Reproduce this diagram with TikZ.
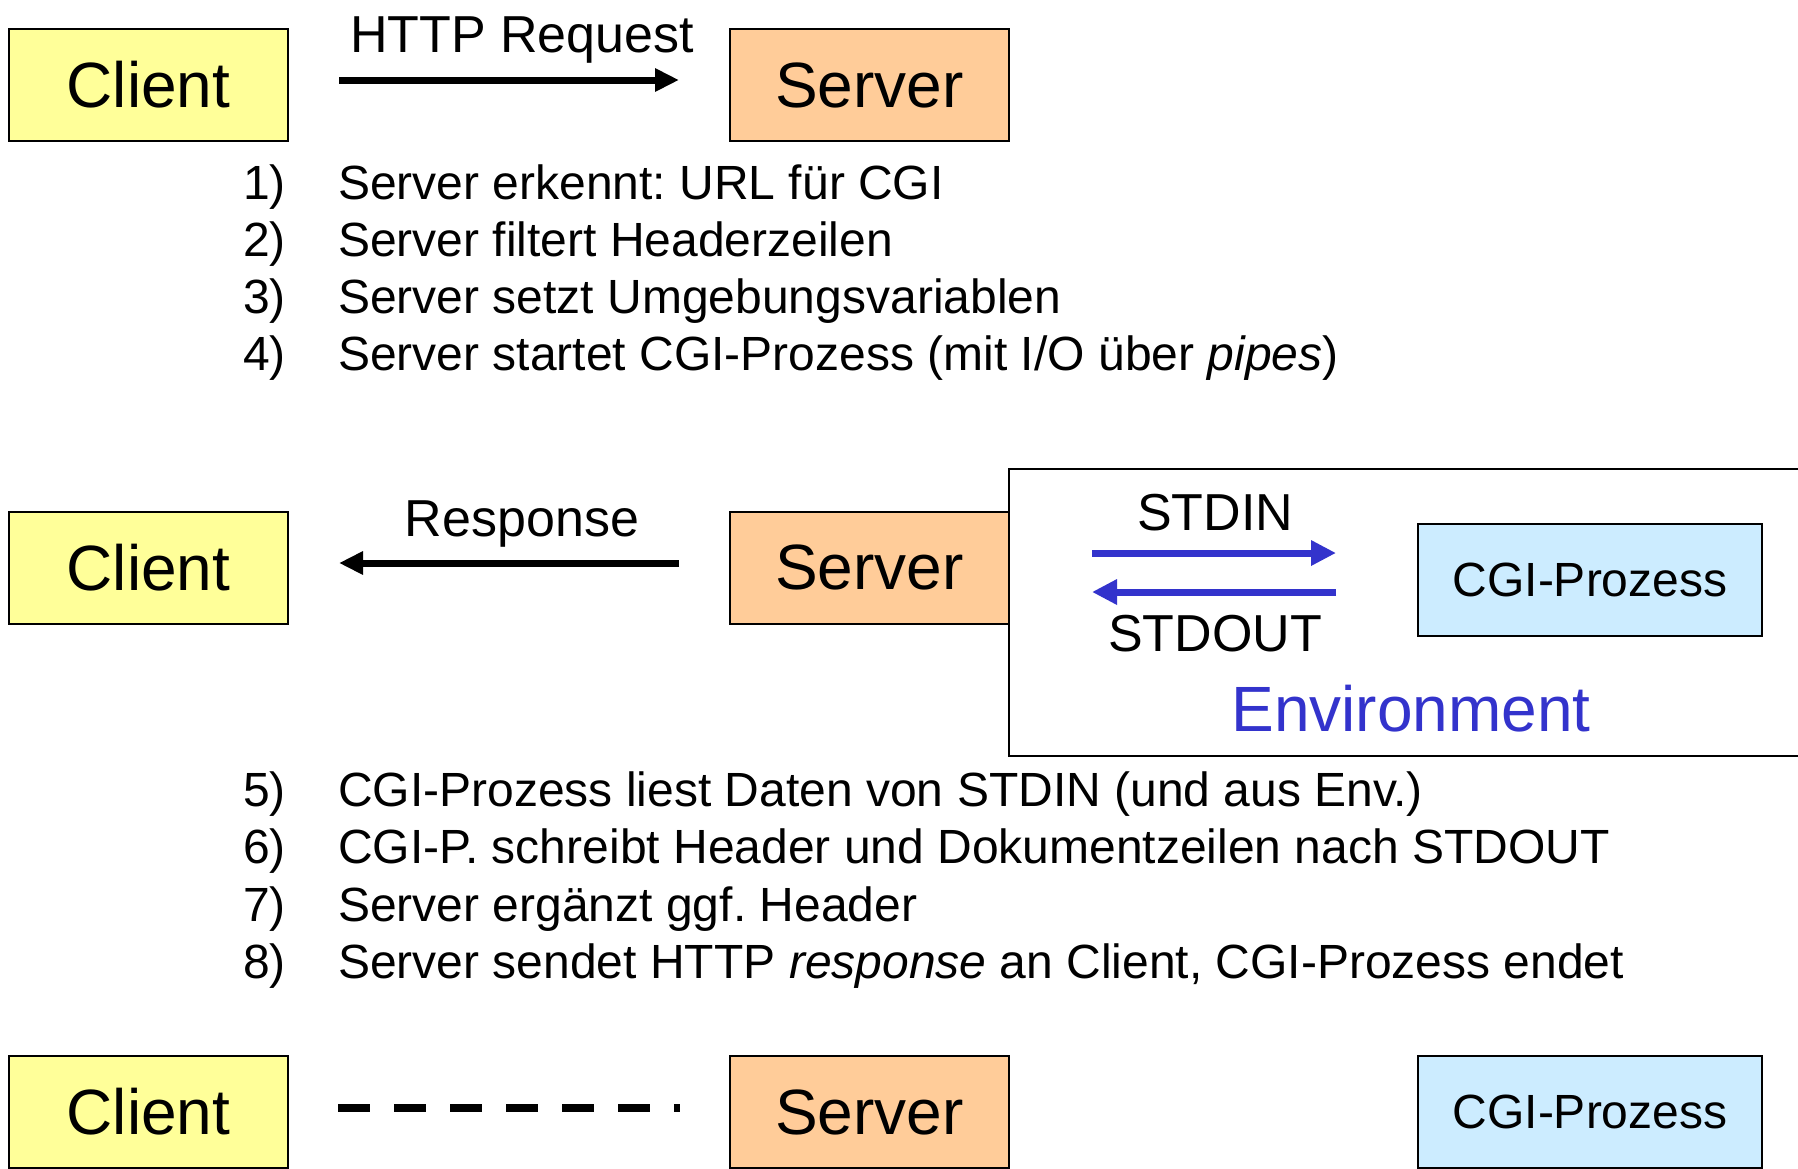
\documentclass[tikz,border=0pt]{standalone}
\usepackage{fontspec}
\setmainfont{Liberation Sans}
\usetikzlibrary{arrows.meta}
\frenchspacing
\definecolor{clientc}{HTML}{FFFF99}
\definecolor{serverc}{HTML}{FFCC99}
\definecolor{cgic}{HTML}{CCECFF}
\definecolor{envblue}{HTML}{3333CC}
\tikzset{
  box/.style={draw=black, line width=2pt, inner sep=0pt, minimum width=279pt, minimum height=112pt, font=\fontsize{64}{64}\selectfont},
  clientbox/.style={box, fill=clientc},
  serverbox/.style={box, fill=serverc},
  cgibox/.style={box, fill=cgic, minimum width=344pt, font=\fontsize{48}{48}\selectfont},
  listtxt/.style={anchor=base west, inner sep=0pt, font=\fontsize{48}{48}\selectfont},
  lbl/.style={anchor=base, inner sep=0pt, font=\fontsize{52}{52}\selectfont},
  blackarrow/.style={line width=7pt, -{Triangle[length=24pt,width=22pt]}},
  bluearrow/.style={line width=7pt, draw=envblue, -{Triangle[length=25pt,width=24pt]}, color=envblue},
  dashline/.style={line width=8pt, dash pattern=on 32pt off 24pt},
}
\begin{document}
\begin{tikzpicture}[x=1pt,y=-1pt]
\useasboundingbox (0,0) rectangle (1798,1168);
\clip (0,0) rectangle (1798,1168);
\fill[white] (0,0) rectangle (1798,1168);

% --- top row
\node[clientbox] (c1) at (148.5,85) {Client};
\node[serverbox] (s1) at (869.5,85) {Server};
\node[lbl] (req) at (522,52) {HTTP Request};
\draw[blackarrow] ([xshift=50pt,yshift=5pt]c1.east) -- ([xshift=-50pt,yshift=5pt]s1.west);

% --- list 1-4
\node[listtxt] (n1) at (243,199) {1)};
\node[listtxt] (t1) at (338,199) {Server erkennt: URL für CGI};
\node[listtxt] (n2) at (243,256) {2)};
\node[listtxt] (t2) at (338,256) {Server filtert Headerzeilen};
\node[listtxt] (n3) at (243,313) {3)};
\node[listtxt] (t3) at (338,313) {Server setzt Umgebungsvariablen};
\node[listtxt] (n4) at (243,370) {4)};
\node[listtxt] (t4) at (338,370) {Server startet CGI-Prozess (mit I/O über \textit{pipes})};

% --- middle row
\node[draw=black, line width=2pt, minimum width=801pt, minimum height=287pt, inner sep=0pt] (env) at (1409.5,612.5) {};
\node[clientbox] (c2) at (148.5,567.5) {Client};
\node[serverbox] (s2) at (869.5,567.5) {Server};
\node[lbl] (resp) at (522,536) {Response};
\draw[blackarrow] ([xshift=-50pt,yshift=4.5pt]s2.west) -- ([xshift=50pt,yshift=4.5pt]c2.east);
\node[cgibox] (cgi2) at (1590,580) {CGI-Prozess};
\coordinate (inA) at (1092,553);
\coordinate (inB) at (1336,553);
\coordinate (outA) at (1336,592);
\coordinate (outB) at (1092,592);
\draw[bluearrow] (inA) -- (inB);
\draw[bluearrow] (outA) -- (outB);
\node[lbl] (stdin) at (1215,530) {STDIN};
\node[lbl] (stdout) at (1215,651) {STDOUT};
\node[anchor=base, inner sep=0pt, font=\fontsize{64}{64}\selectfont, text=envblue] (envlbl) at (1411,731) {Environment};

% --- list 5-8
\node[listtxt] (n5) at (243,806) {5)};
\node[listtxt] (t5) at (338,806) {CGI-Prozess liest Daten von STDIN (und aus Env.)};
\node[listtxt] (n6) at (243,863) {6)};
\node[listtxt] (t6) at (338,863) {CGI-P. schreibt Header und Dokumentzeilen nach STDOUT};
\node[listtxt] (n7) at (243,921) {7)};
\node[listtxt] (t7) at (338,921) {Server ergänzt ggf. Header};
\node[listtxt] (n8) at (243,978) {8)};
\node[listtxt] (t8) at (338,978) {Server sendet HTTP \textit{response} an Client, CGI-Prozess endet};

% --- bottom row
\node[clientbox] (c3) at (148.5,1112) {Client};
\node[serverbox] (s3) at (869.5,1112) {Server};
\node[cgibox] (cgi3) at (1590,1112) {CGI-Prozess};
\draw[dashline] ([xshift=49pt,yshift=4pt]c3.east) -- ([xshift=-49pt,yshift=4pt]s3.west);
\end{tikzpicture}
\end{document}
